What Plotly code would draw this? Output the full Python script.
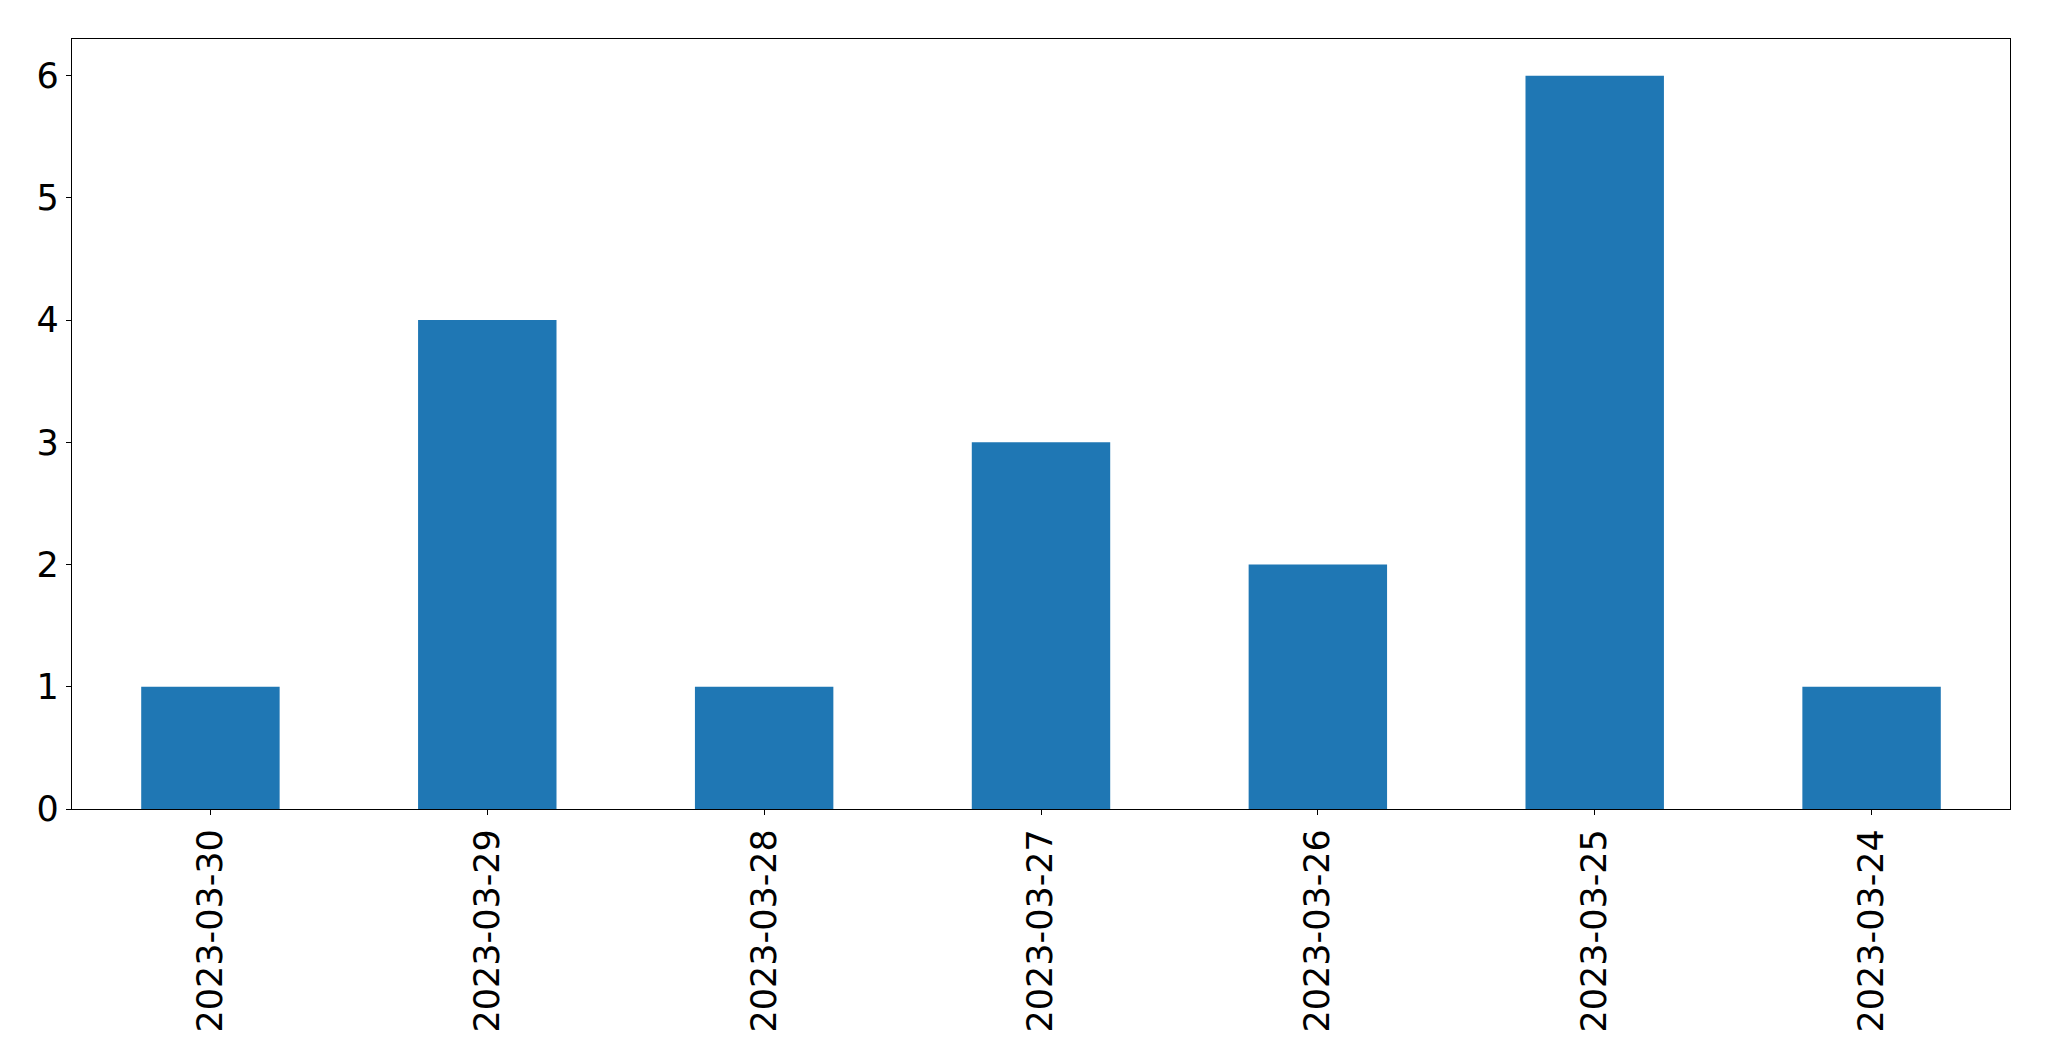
import plotly.graph_objects as go

dates = ["2023-03-30", "2023-03-29", "2023-03-28", "2023-03-27", "2023-03-26", "2023-03-25", "2023-03-24"]
counts = [1, 4, 1, 3, 2, 6, 1]

fig = go.Figure(go.Bar(x=dates, y=counts, marker_color="#1f77b4", marker_line_width=0, width=0.5))

# page body has an 8px default margin, so the figure is sized/positioned to compensate
fig.update_layout(
    width=2041, height=1053,
    margin=dict(l=64, r=39, t=31, b=252, pad=0),
    plot_bgcolor="white", paper_bgcolor="white",
    font=dict(family="DejaVu Sans", size=35, color="black"),
    showlegend=False,
)
fig.update_xaxes(
    type="category", range=[-0.5, 6.5], tickangle=-90,
    showline=True, linecolor="black", linewidth=1.3, mirror=True,
    ticks="outside", ticklen=5, tickwidth=1.3, tickcolor="black",
    showgrid=False, zeroline=False, automargin=False,
)
fig.update_yaxes(
    range=[0, 6.3], tickvals=[0, 1, 2, 3, 4, 5, 6],
    showline=True, linecolor="black", linewidth=1.3, mirror=True,
    ticks="outside", ticklen=5, tickwidth=1.3, tickcolor="black",
    showgrid=False, zeroline=False, automargin=False,
)
fig.write_html("out.html")
